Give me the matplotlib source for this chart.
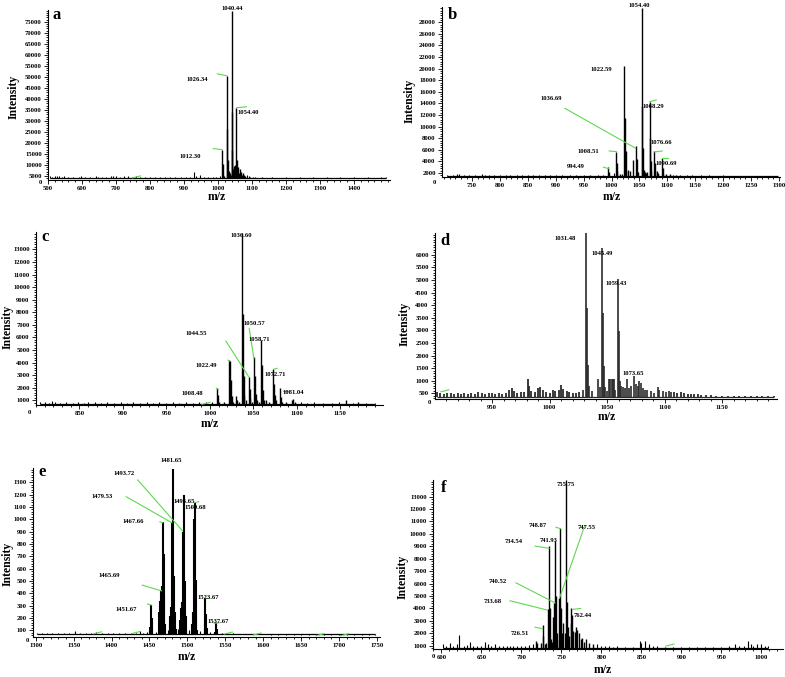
import numpy as np
import matplotlib.pyplot as plt
from matplotlib.ticker import FixedLocator, FixedFormatter, MultipleLocator

W, H = 785, 677
GREEN = '#5fd84f'
plt.rcParams['font.family'] = ['Liberation Serif', 'DejaVu Serif']
plt.rcParams['font.weight'] = 'bold'

# ---------------- data (m/z, intensity) ----------------
peaks_a = [(1012.30, 17000), (1013.3, 10500), (1014.3, 5500), (1019, 5200),
           (1026.34, 50500), (1027.3, 26500), (1028.3, 12500), (1029.3, 6000),
           (1033, 7500), (1035, 6500), (1037, 5500),
           (1040.44, 80000), (1041.4, 34000), (1042.4, 17000), (1043.4, 8000),
           (1046, 8500), (1048, 9500), (1050, 10000), (1052, 7500),
           (1054.40, 36000), (1055.4, 12500), (1056.4, 8500), (1057.4, 6000),
           (1060, 9000), (1062, 6500), (1064, 8000), (1066, 6000), (1068, 7000),
           (1071, 5500), (1074, 6500), (1077, 5500), (1080, 5000)]
noise_a = [(505, 4800), (512, 4700), (520, 5000), (527, 4900), (533, 5100), (540, 4600),
           (548, 4800), (560, 4500), (575, 4600), (590, 4700), (598, 4900), (610, 4500),
           (625, 4700), (640, 5100), (648, 4700), (660, 4600), (672, 4500), (684, 4800),
           (690, 5200), (700, 4900), (712, 4600), (725, 4800), (735, 4900), (748, 4700),
           (760, 4800), (772, 4600), (785, 4500), (800, 4700), (815, 4500), (830, 4600),
           (845, 4500), (860, 4500), (875, 4600), (890, 4500), (905, 4600), (918, 4700),
           (929, 6800), (936, 4800), (946, 5300), (958, 4700), (970, 4600), (985, 4600),
           (995, 4700), (1005, 4800), (1085, 5400), (1090, 5000), (1095, 4700), (1102, 4600),
           (1110, 4500), (1130, 4400), (1160, 4400), (1200, 4400), (1240, 4400), (1280, 4400),
           (1320, 4400), (1360, 4400), (1400, 4400), (1440, 4400), (1480, 4400), (1495, 4400)]
ann_a = [('1040.44', 1040.44), ('1026.34', 1026.34), ('1054.40', 1054.40), ('1012.30', 1012.30)]
stray_a = [(760, 4600)]

peaks_b = [(994.49, 3000), (995.5, 2200), (1008.51, 5700), (1009.5, 3800), (1010.5, 2400),
           (1015, 1900), (1022.59, 20500), (1023.8, 11500), (1025, 5800), (1026, 2400),
           (1030, 2600), (1033, 2400), (1038, 4200), (1043.3, 6600), (1045.6, 4400),
           (1048, 2200), (1054.40, 30400), (1055.4, 13500), (1056.4, 6300), (1057.4, 2600),
           (1060, 2200), (1062, 2000), (1064, 2100), (1068.29, 14300), (1069.3, 8000),
           (1070.3, 4000), (1071.3, 2300), (1076.66, 5800), (1077.7, 3800), (1078.7, 2300),
           (1081, 2300), (1084, 2000), (1090.69, 4500), (1091.7, 2800), (1092.7, 1900),
           (1098, 1900), (1104, 1800), (1110, 1700), (1116, 1700)]
noise_b = [(705, 1600), (715, 1600), (722, 1900), (727, 1800), (735, 1600), (745, 1600),
           (755, 1600), (768, 1800), (773, 1700), (780, 1600), (790, 1600), (800, 1600),
           (810, 1600), (818, 1700), (830, 1600), (840, 1600), (850, 1600), (860, 1600),
           (870, 1600), (880, 1600), (890, 1600), (900, 1600), (912, 1600), (925, 1600),
           (937, 1600), (950, 1600), (962, 1600), (975, 1700), (985, 1700), (1005, 2000),
           (1019, 1900), (1122, 1600), (1135, 1600), (1145, 1700), (1160, 1600), (1175, 1600),
           (1190, 1550), (1200, 1600), (1215, 1550), (1230, 1550), (1245, 1550), (1260, 1550),
           (1275, 1550), (1290, 1550), (1298, 1550)]
ann_b = [('1054.40', 1054.40), ('1022.59', 1022.59), ('1036.69', 1043.3), ('1068.29', 1068.29),
         ('1076.66', 1076.66), ('1090.69', 1090.69), ('1008.51', 1008.51), ('994.49', 994.49)]
stray_b = []

peaks_c = [(1008.48, 1950), (1009.5, 1400), (1010.5, 900), (1016, 900),
           (1022.49, 4200), (1023.5, 4100), (1024.5, 2650), (1025.5, 1350), (1026.5, 900),
           (1030.5, 1350), (1031.5, 1000), (1033, 900),
           (1036.60, 14300), (1037.6, 7900), (1038.6, 2900), (1039.6, 1400), (1041, 1000),
           (1044.55, 2880), (1045.5, 1900), (1046.5, 1200), (1048, 900),
           (1050.57, 4470), (1051.6, 2900), (1052.6, 1500), (1053.6, 1000), (1056, 900),
           (1058.71, 5800), (1059.7, 3800), (1060.7, 1800), (1061.7, 1000), (1065, 1000),
           (1068, 900), (1072.71, 3490), (1073.7, 2300), (1074.7, 1400), (1075.7, 1000),
           (1081.04, 1950), (1082, 1300), (1083, 900), (1088, 900), (1094, 1000),
           (1096, 1100), (1098, 900), (1157, 1000), (1170, 900)]
noise_c = [(805, 850), (810, 900), (815, 800), (818, 950), (822, 900), (828, 800), (835, 850),
           (842, 800), (848, 850), (855, 800), (860, 900), (868, 850), (875, 800), (882, 850),
           (890, 800), (898, 850), (905, 800), (912, 850), (920, 800), (928, 850), (935, 800),
           (942, 850), (950, 800), (957, 850), (965, 800), (972, 850), (980, 800), (988, 850),
           (995, 850), (1002, 900), (1105, 850), (1112, 800), (1120, 850), (1130, 800),
           (1140, 800), (1148, 850), (1165, 800), (1180, 800), (1190, 800)]
ann_c = [('1036.60', 1036.60), ('1044.55', 1044.55), ('1050.57', 1050.57), ('1058.71', 1058.71),
         ('1072.71', 1072.71), ('1081.04', 1081.04), ('1022.49', 1022.49), ('1008.48', 1008.48)]
stray_c = [(995.4, 760)]

peaks_d = [(1029, 650), (1031.48, 6860), (1032.5, 3900), (1033.5, 1630), (1034.5, 800),
           (1037, 600), (1042, 1050), (1043.5, 750), (1045.49, 6260), (1046.5, 3680),
           (1047.5, 1600), (1048.5, 750), (1050, 600), (1052, 1050), (1053, 1050),
           (1054, 1080), (1055, 1060), (1056, 1070), (1057, 650), (1059.43, 5030),
           (1060.4, 2980), (1061.4, 1000), (1062.5, 800), (1064, 750), (1066, 700),
           (1067.5, 1060), (1069, 700), (1071, 800), (1073.65, 1200), (1075, 850),
           (1076.5, 800), (1078, 1000), (1079.5, 900), (1081, 700), (1083, 650), (1085, 620),
           (1088, 580), (1091, 520), (1094, 760), (1095.5, 650), (1099, 580), (1101, 560),
           (1104, 600), (1106, 560)]
noise_d = [(902, 560), (905, 520), (908, 480), (911, 530), (914, 500), (917, 470), (920, 520),
           (923, 480), (926, 530), (929, 490), (932, 520), (935, 480), (938, 540), (941, 500),
           (944, 470), (947, 520), (950, 500), (953, 480), (956, 520), (959, 460), (962, 500),
           (965, 650), (967, 700), (969, 600), (972, 520), (975, 560), (978, 540), (981, 1080),
           (982, 800), (984, 600), (987, 560), (990, 700), (992, 760), (994, 650), (997, 560),
           (1000, 520), (1003, 620), (1005, 580), (1008, 620), (1010, 820), (1012, 680),
           (1015, 580), (1017, 560), (1020, 520), (1023, 500), (1026, 540), (1108, 560),
           (1111, 520), (1114, 540), (1117, 500), (1120, 480), (1123, 490), (1126, 460),
           (1129, 470), (1132, 440), (1136, 430), (1140, 420), (1145, 410), (1150, 400),
           (1155, 400), (1160, 390), (1165, 390), (1170, 390), (1175, 390), (1180, 400),
           (1185, 395), (1190, 390), (1195, 385)]
ann_d = [('1031.48', 1031.48), ('1045.49', 1045.49), ('1059.43', 1059.43), ('1073.65', 1073.65)]
stray_d = [(909, 600)]

peaks_e = [(1450.6, 130), (1451.67, 305), (1452.7, 200), (1453.7, 110),
           (1462.5, 250), (1463.5, 340), (1465.69, 420), (1466.6, 460), (1467.66, 980),
           (1468.7, 720), (1469.7, 380), (1470.7, 150),
           (1476.6, 150), (1477.6, 220), (1478.6, 290), (1479.53, 980), (1481.65, 1410),
           (1482.7, 540), (1483.7, 250), (1484.7, 110),
           (1490.6, 180), (1491.6, 280), (1492.6, 330), (1493.72, 900), (1495.65, 1197),
           (1496.7, 500), (1497.7, 220), (1498.7, 100),
           (1506.6, 150), (1507.6, 250), (1508.6, 1000), (1509.68, 1135), (1510.7, 510),
           (1511.7, 230), (1512.7, 100),
           (1522.6, 150), (1523.67, 360), (1524.7, 230), (1525.7, 120),
           (1536.6, 90), (1537.67, 157), (1538.7, 110)]
noise_e = [(1302, 80), (1308, 78), (1315, 75), (1322, 78), (1330, 75), (1337, 80), (1344, 76),
           (1352, 92), (1358, 78), (1366, 76), (1373, 82), (1380, 88), (1387, 80), (1395, 78),
           (1402, 76), (1410, 80), (1418, 78), (1425, 76), (1432, 80), (1437, 95), (1442, 82),
           (1447, 85), (1458, 90), (1474, 100), (1488, 110), (1502, 100), (1517, 95),
           (1530, 90), (1545, 80), (1552, 78), (1560, 75), (1568, 72), (1576, 72), (1584, 70),
           (1592, 70), (1600, 68), (1610, 66), (1620, 66), (1630, 66), (1640, 65), (1650, 65),
           (1660, 65), (1670, 65), (1680, 64), (1690, 64), (1700, 64), (1710, 64), (1720, 64),
           (1730, 64), (1740, 64), (1748, 64)]
ann_e = [('1481.65', 1481.65), ('1495.65', 1495.65), ('1509.68', 1509.68), ('1523.67', 1523.67),
         ('1537.67', 1537.67), ('1467.66', 1467.66), ('1465.69', 1465.69), ('1451.67', 1451.67),
         ('1479.53', 1479.53), ('1493.72', 1493.72)]
stray_e = [(1381.6, 80), (1432, 82), (1554, 78), (1592, 70), (1675, 65), (1707, 64)]

peaks_f = [(718, 1400), (720, 1200), (724, 1200), (726.51, 2650), (727.5, 1800), (729, 1100),
           (731, 1200), (733.68, 3950), (734.54, 9000), (735.5, 4000), (736.5, 1500),
           (738, 1300), (739.5, 3300), (740.52, 4400), (741.93, 9400), (742.9, 5000),
           (744, 2000), (745, 1500), (747.55, 4800), (748.87, 10500), (749.9, 4000),
           (751, 2000), (752.5, 2800), (754, 2000), (755.75, 14340), (756.8, 4500),
           (758, 2500), (760, 1800), (761.5, 2800), (762.44, 4000), (763.5, 3500),
           (765, 2200), (767, 2100), (768.5, 2500), (770, 2300), (772, 2000), (774, 1500),
           (776, 1600), (778, 1300), (781, 1500), (785, 1200), (790, 1100)]
noise_f = [(602, 1100), (606, 950), (611, 1200), (615, 1000), (619, 1100), (622.4, 1900),
           (628, 1000), (632, 1050), (636, 1300), (640, 950), (645, 1000), (650, 950),
           (655, 1300), (658, 1100), (662, 1000), (667, 1100), (672, 950), (677, 1000),
           (682, 1000), (686, 950), (690, 1000), (695, 950), (700, 1000), (705, 1000),
           (710, 1050), (714, 1100), (795, 1100), (800, 1000), (805, 950), (810, 950),
           (815, 900), (820, 950), (830, 900), (840, 900), (848, 1350), (850, 1200),
           (855, 1350), (860, 1100), (865, 1000), (870, 950), (880, 900), (890, 900),
           (900, 900), (910, 900), (920, 900), (930, 900), (940, 900), (950, 900), (960, 950),
           (967, 1100), (972, 950), (978, 950), (983, 1400), (987, 1100), (990, 1000),
           (995, 1150), (1000, 1100), (1004, 1000), (1008, 950)]
ann_f = [('755.75', 755.75), ('748.87', 748.87), ('741.93', 741.93), ('734.54', 734.54),
         ('733.68', 733.68), ('740.52', 740.52), ('747.55', 747.55), ('762.44', 762.44),
         ('726.51', 726.51)]
stray_f = [(885.7, 1050)]

# ---------------- layout (pixels) ----------------
panels = {
    'a': dict(peaks=peaks_a, noise=noise_a, ann=ann_a, stray=stray_a, base=4300,
              box=(48, 390, 10, 180), xlim=(500, 1506), ylim=(3200, 80400),
              xmaj=np.arange(500, 1401, 100), ymaj=np.arange(5000, 75001, 5000),
              letter=(57, 15), ylab=(14, 97), xlab=(217, 197), zero=(-8, -2),
              lay=[(0, 2, 'center', None), (-19, -4, 'right', (-9.5, 2, 0, 0)),
                   (1.5, -5, 'left', (0, 0, 10, 1)), (-21.5, -6.4, 'right', (-9, 1, 0, 0))]),
    'b': dict(peaks=peaks_b, noise=noise_b, ann=ann_b, stray=stray_b, base=1500,
              box=(442, 780, 7, 177), xlim=(696, 1302), ylim=(1310, 30620),
              xmaj=np.arange(750, 1301, 50), ymaj=np.arange(2000, 28001, 2000),
              letter=(452, 15), ylab=(410, 101), xlab=(612, 197), zero=(-8, -5),
              lay=[(-3, 3, 'center', None), (-12.4, -3.6, 'right', None),
                   (-84, 48, 'center', (-70.8, 38, 0, -2)), (-7.3, -5, 'left', (0, 0, 6.7, 1.7)),
                   (-4.3, 8.3, 'left', (0, -1, 8, 0)), (-7.1, -4.8, 'left', (0, 0, 6, 0)),
                   (-17.3, 0.5, 'right', (-7, 0.5, 0, 0)), (-24, 0.5, 'right', (-5, 0, 0, -1.5))]),
    'c': dict(peaks=peaks_c, noise=noise_c, ann=ann_c, stray=stray_c, base=700,
              box=(36, 383, 232, 405), xlim=(800, 1199), ylim=(626, 14390),
              xmaj=np.arange(850, 1151, 50), ymaj=np.arange(1000, 13001, 1000),
              letter=(45, 237), ylab=(8, 327), xlab=(210, 424), zero=(-7, -8),
              lay=[(0, -2.6, 'center', None), (-52, 43.3, 'center', (-22.8, 35.6, 0, 0)),
                   (0, 33, 'center', (-4.7, 28.3, 0, -2)), (-1.8, 0, 'center', None),
                   (1.7, -5, 'center', (1, 0, 4, 0.7)), (12.8, -4.3, 'center', (2.8, -2.3, 7.8, -2.3)),
                   (-12.3, -5, 'right', (-1.5, 0, 0, -1)), (-14, -5.6, 'right', (-1, 0, 1, -1))]),
    'd': dict(peaks=peaks_d, noise=noise_d, ann=ann_d, stray=stray_d, base=370,
              box=(435, 777, 233, 399), xlim=(900.4, 1197.8), ylim=(273, 6870),
              xmaj=np.arange(950, 1151, 50), ymaj=np.arange(500, 6001, 500),
              letter=(445, 241), ylab=(405, 324), xlab=(607, 417), zero=(-6, -4),
              lay=[(-10, -5, 'right', None), (0, -5, 'center', None),
                   (-2, -4.7, 'center', None), (-1, 1.7, 'center', None)]),
    'e': dict(peaks=peaks_e, noise=noise_e, ann=ann_e, stray=stray_e, base=68,
              box=(33, 380, 468, 637), xlim=(1296.4, 1754), ylim=(46, 1416),
              xmaj=np.arange(1300, 1751, 50), ymaj=np.arange(100, 1301, 100),
              letter=(42, 472), ylab=(8, 564), xlab=(187, 657), zero=(-6, -4),
              lay=[(-2.4, 8, 'center', None), (0, -6.7, 'center', None),
                   (0.5, -4.6, 'center', (0, 0, 4, 1)), (2.7, 0.5, 'center', (0, 0, 3, 0)),
                   (2.3, 2.3, 'center', (-1.7, 0, 3.3, 0.6)), (-19, 0, 'right', (-3, 0, 0, -1)),
                   (-40.9, 15.8, 'right', (-19.2, 5.8, 0, 0)), (-14, -4, 'right', (-3.3, 1, 0.7, 0)),
                   (-69.9, 25.1, 'center', (-45.6, 25.1, 0, -1)),
                   (-58.8, 58.4, 'center', (-44.9, 51.7, 0, 0.7))]),
    'f': dict(peaks=peaks_f, noise=noise_f, ann=ann_f, stray=stray_f, base=800,
              box=(433, 783, 480, 649), xlim=(589.5, 1027), ylim=(734, 14340),
              xmaj=np.arange(600, 1001, 50), ymaj=np.arange(1000, 13001, 1000),
              letter=(444, 488), ylab=(403, 577), xlab=(603, 670), zero=(0, -7),
              lay=[(0, -5, 'center', None), (-13.8, 1.7, 'right', (-4.5, 0.4, 0, -1)),
                   (-6.7, 0.4, 'center', None), (-26, 4.6, 'right', (-14, 0.3, 0, -2)),
                   (-46.6, 8, 'right', (-38.3, 8.3, -1, -1)),
                   (-47.1, 21.6, 'right', (-37.8, 20.6, 1.2, 0.6)),
                   (18.6, 70.5, 'left', (24.9, 71.8, 0, 0.2)),
                   (11, -6.6, 'center', (1, -1, 9.3, 0)),
                   (-13.3, -8, 'right', (-7.6, -2, 0, -3.5))]),
}


def px_rect(left, right, top, bottom):
    return [left / W, 1 - bottom / H, (right - left) / W, (bottom - top) / H]


def draw_panel(fig, name, p):
    ax = fig.add_axes(px_rect(*p['box']))
    pk = np.array(p['peaks'], dtype=float)
    nz = np.array(p['noise'], dtype=float)
    color = '#2b2b2b' if name == 'd' else 'black'
    peak_lw = {'d': 1.2, 'e': 1.5}.get(name, 1.0)
    lo = min(pk[:, 0].min(), nz[:, 0].min())
    hi = max(pk[:, 0].max(), nz[:, 0].max())
    ax.hlines(p['base'], lo, hi, color=color, lw=0.9)
    ax.vlines(nz[:, 0], p['base'], nz[:, 1], color=color, lw=1.3 if name == 'd' else 0.8)
    ax.vlines(pk[:, 0], p['base'], pk[:, 1], color=color, lw=peak_lw)
    ax.set_xlim(p['xlim'])
    ax.set_ylim(p['ylim'])

    ymaj = list(p['ymaj'])
    ax.yaxis.set_major_locator(FixedLocator(ymaj))
    ax.yaxis.set_major_formatter(FixedFormatter([str(int(v)) for v in ymaj]))
    ax.yaxis.set_minor_locator(MultipleLocator((ymaj[1] - ymaj[0]) / 5))
    xmaj = list(p['xmaj'])
    ax.xaxis.set_major_locator(FixedLocator(xmaj))
    ax.xaxis.set_major_formatter(FixedFormatter([str(int(v)) for v in xmaj]))
    ax.xaxis.set_minor_locator(MultipleLocator((xmaj[1] - xmaj[0]) / 5))
    for s in ('top', 'right'):
        ax.spines[s].set_visible(False)
    for s in ('left', 'bottom'):
        ax.spines[s].set_linewidth(0.8)
    ax.tick_params(which='both', direction='out', labelsize=4.8, width=0.6, pad=1.5)
    ax.tick_params(which='major', length=3)
    ax.tick_params(which='minor', length=1.6)
    ax.set_facecolor('none')

    inv = ax.transData.inverted()
    # the "0" printed under the axis corner
    corner = ax.transAxes.transform((0, 0))
    zx, zy = inv.transform(corner + np.array(p['zero']))
    ax.text(zx, zy, '0', ha='center', va='center', fontsize=4.8, fontweight='bold', clip_on=False)

    for (text, mz), (dx, dy, ha, lead) in zip(p['ann'], p['lay']):
        i = np.argmin(np.abs(pk[:, 0] - mz))
        top = ax.transData.transform(pk[i])
        tx, ty = inv.transform(top + np.array([dx, dy]))
        ax.text(tx, ty, text, ha=ha, va='center', fontsize=4.8, fontweight='bold',
                clip_on=False, zorder=5)
        if lead:
            seg = inv.transform([top + np.array(lead[:2]), top + np.array(lead[2:])])
            ax.plot(seg[:, 0], seg[:, 1], color=GREEN, lw=0.8, clip_on=False, zorder=4)
    for mz, inten in p['stray']:
        c = ax.transData.transform((mz, inten))
        seg = inv.transform([c + np.array([-4, -1]), c + np.array([4, 1])])
        ax.plot(seg[:, 0], seg[:, 1], color=GREEN, lw=0.8, zorder=4)

    lx, ly = p['letter']
    fig.text(lx / W, 1 - ly / H, name, fontsize=12, fontweight='bold', ha='center', va='center')
    yx, yy = p['ylab']
    fig.text(yx / W, 1 - yy / H, 'Intensity', fontsize=8.5, fontweight='bold',
             rotation=90, ha='center', va='center')
    xx, xy_ = p['xlab']
    fig.text(xx / W, 1 - xy_ / H, 'm/z', fontsize=8.5, fontweight='bold', ha='center', va='center')
    return ax


fig = plt.figure(figsize=(W / 100, H / 100), dpi=100)
for name, p in panels.items():
    draw_panel(fig, name, p)
fig.savefig('out.png', dpi=100, facecolor='white')
